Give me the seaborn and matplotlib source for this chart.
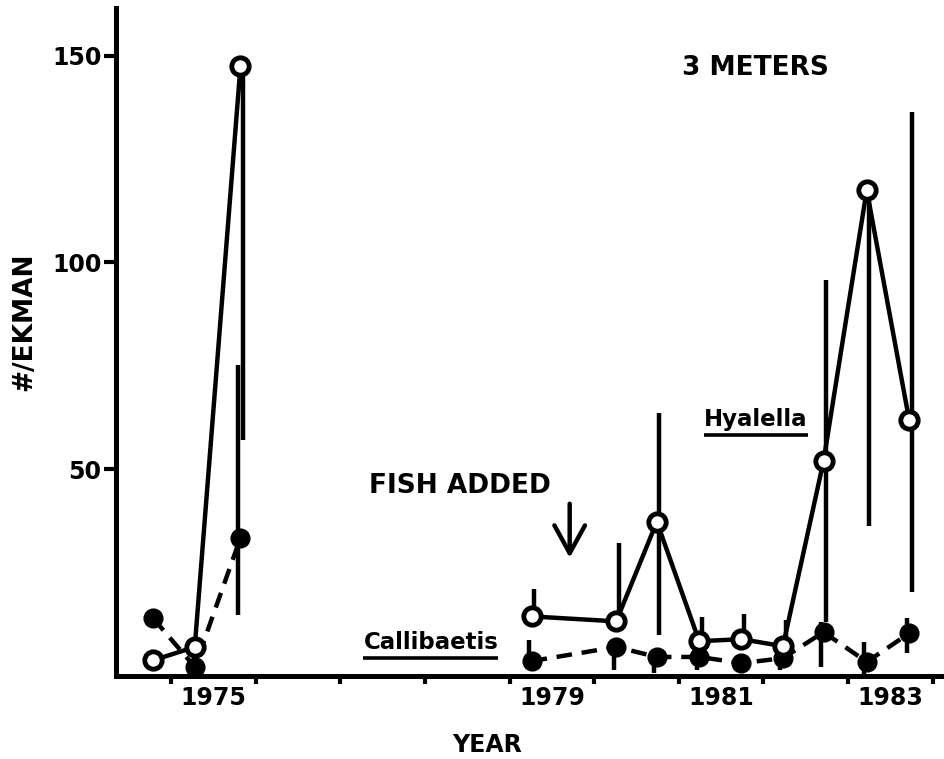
import numpy as np
import pandas as pd
import seaborn as sns
import matplotlib.pyplot as plt

# sampling dates (decimal years)
years_a = [1974.79, 1975.28, 1975.82]
years_b = [1979.26, 1980.26, 1980.74, 1981.24, 1981.74, 1982.23, 1982.71, 1983.22, 1983.72]

# Hyalella (open circles, solid line)
hya_a = [3.8, 7.0, 147.4]
hya_b = [14.4, 13.2, 37.3, 8.4, 8.9, 7.2, 52.0, 117.5, 62.0]
hya_lo = [np.nan, np.nan, 57.0, 14.4, 13.2, 9.9, 8.4, 8.9, 7.2, 13.0, 36.3, 20.2]
hya_hi = [np.nan, np.nan, 147.4, 21.0, 32.2, 63.5, 14.2, 15.1, 13.5, 95.7, 117.5, 136.3]

# Callibaetis (filled circles, dashed line)
cal_a = [13.9, 2.2, 33.4]
cal_b = [3.6, 7.0, 4.6, 4.6, 3.1, 4.3, 10.6, 3.4, 10.3]
cal_lo = [np.nan, np.nan, 14.7, 3.6, 1.4, 0.7, 1.4, 3.1, 1.4, 2.2, 0.0, 5.5]
cal_hi = [np.nan, np.nan, 75.2, 8.7, 8.2, 6.3, 7.0, 5.0, 6.3, 13.0, 8.2, 14.0]

year_ticks = list(range(1975, 1985))
year_labels = ["1975", "1979", "1981", "1983"]

all_years = years_a + years_b
df = pd.DataFrame({
    "year": all_years * 2,
    "count": hya_a + hya_b + cal_a + cal_b,
    "lo": hya_lo + cal_lo,
    "hi": hya_hi + cal_hi,
    "taxon": ["Hyalella"] * 12 + ["Callibaetis"] * 12,
    "period": (["a"] * 3 + ["b"] * 9) * 2,
})

sns.set_style("ticks")
plt.rcParams["font.family"] = ["DejaVu Sans"]
plt.rcParams["font.weight"] = "bold"
for k in ["text.color", "axes.labelcolor", "xtick.color", "ytick.color", "axes.edgecolor"]:
    plt.rcParams[k] = "black"

fig = plt.figure(figsize=(9.45, 7.59), dpi=100)
ax = fig.add_axes([0.1228, 0.1094, 0.875, 0.8801])

# error bars (nudged apart a little, as in the original)
for taxon, dx in [("Callibaetis", -0.03), ("Hyalella", 0.03)]:
    sub = df[(df.taxon == taxon) & df.lo.notna()]
    ax.vlines(sub.year + dx, sub.lo, sub.hi, color="black", lw=3.2, zorder=2)

styles = {
    "Callibaetis": dict(linestyle=(0, (3.5, 2.2)), marker="o", markersize=13.5,
                        markerfacecolor="black", markeredgecolor="black", markeredgewidth=1),
    "Hyalella": dict(linestyle="-", marker="o", markersize=12.5,
                     markerfacecolor="white", markeredgecolor="black", markeredgewidth=3.5),
}
for taxon in ["Callibaetis", "Hyalella"]:
    for period in ["a", "b"]:
        sub = df[(df.taxon == taxon) & (df.period == period)]
        sns.lineplot(data=sub, x="year", y="count", ax=ax, color="black",
                     lw=3.2, zorder=3, **styles[taxon])

ax.set_xlim(1974.35, 1984.12)
ax.set_ylim(0, 161.5)
ax.set_yticks([50, 100, 150])
ax.set_xticks(year_ticks)
ax.set_xticklabels([])
ax.set_xticks([int(y) + 0.5 for y in year_labels], labels=year_labels, minor=True)

ax.tick_params(axis="both", which="major", width=3, color="black")
ax.tick_params(axis="y", length=8.5, pad=2, labelsize=17)
ax.tick_params(axis="x", which="major", length=5.5)
ax.tick_params(axis="x", which="minor", length=0, pad=7, labelsize=17)
for lab in ax.get_xticklabels(minor=True) + ax.get_yticklabels():
    lab.set_fontweight("bold")

sns.despine(ax=ax)
for s in ["left", "bottom"]:
    ax.spines[s].set_linewidth(3.6)

ax.set_xlabel("YEAR", fontsize=17, fontweight="bold")
ax.set_ylabel("#/EKMAN", fontsize=19, fontweight="bold")
ax.xaxis.set_label_coords(0.449, -0.103)
ax.xaxis.label.set_va("center")
ax.yaxis.set_label_coords(-0.111, 0.531)
ax.yaxis.label.set_va("center")

ax.text(1981.9, 147.1, "3 METERS", ha="center", va="center", fontsize=19, fontweight="bold")
ax.text(1978.41, 45.9, "FISH ADDED", ha="center", va="center", fontsize=19, fontweight="bold")
t_h = ax.text(1981.91, 62.0, "Hyalella", ha="center", va="center", fontsize=16.5, fontweight="bold")
t_c = ax.text(1978.07, 8.2, "Callibaetis", ha="center", va="center", fontsize=16.5, fontweight="bold")

ax.annotate("", xy=(1979.71, 27.9), xytext=(1979.71, 42.3),
            arrowprops=dict(arrowstyle="->,head_length=1.0,head_width=0.55",
                            lw=3.2, color="black", mutation_scale=20))

# underline the taxon names
fig.canvas.draw()
inv = ax.transData.inverted()
for t in [t_h, t_c]:
    bb = t.get_window_extent()
    (x0, y0), (x1, _) = inv.transform([(bb.x0, bb.y0 - 4), (bb.x1, bb.y0 - 4)])
    ax.plot([x0, x1], [y0, y0], color="black", lw=2.6, solid_capstyle="butt")

fig.savefig("out.png", dpi=100)
